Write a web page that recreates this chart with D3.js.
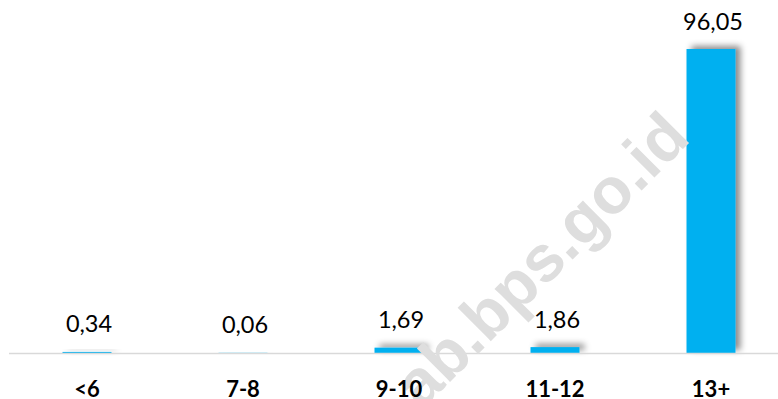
<!DOCTYPE html>
<html>
<head>
<meta charset="utf-8">
<script src="https://cdn.jsdelivr.net/npm/d3@7"></script>
<style>
  html, body { margin: 0; padding: 0; background: #fff; }
  svg { display: block; }
</style>
</head>
<body>
<svg id="chart" width="778" height="399"></svg>
<script>
const categories = ["<6", "7-8", "9-10", "11-12", "13+"];
const values = [0.34, 0.06, 1.69, 1.86, 96.05];
const valueLabels = ["0,34", "0,06", "1,69", "1,86", "96,05"];
const yDomainMax = 100;

const W = 778, H = 399;
const baseY = 353, topY = 36.5;
const svg = d3.select("#chart");

const defs = svg.append("defs");
const f = defs.append("filter").attr("id", "shadow")
  .attr("x", "-50%").attr("y", "-200%").attr("width", "200%").attr("height", "500%");
f.append("feDropShadow").attr("dx", 5).attr("dy", -3).attr("stdDeviation", 3)
  .attr("flood-color", "#000").attr("flood-opacity", 0.45);

const x = d3.scaleBand().domain(categories).range([9, 789])
  .paddingInner(0.686).paddingOuter(0.343);
const y = d3.scaleLinear().domain([0, yDomainMax]).range([baseY, topY]);

// bars
svg.append("g").selectAll("rect").data(values).join("rect")
  .attr("x", (d, i) => x(categories[i]))
  .attr("width", x.bandwidth())
  .attr("y", d => y(d))
  .attr("height", d => baseY - y(d))
  .attr("fill", "#00B0F0")
  .attr("filter", "url(#shadow)");

// axis line
const xAxis = d3.axisBottom(x).tickSize(0).tickPadding(0).tickFormat("");
const ax = svg.append("g").attr("transform", `translate(0,${baseY})`).call(xAxis);
ax.select(".domain").attr("d", `M9,0.5H778`).attr("stroke", "#d9d9d9").attr("stroke-width", 1.5);

// watermark
svg.append("text")
  .attr("transform", "translate(692,140) rotate(-45)")
  .attr("text-anchor", "end")
  .attr("font-family", "Liberation Sans, Arial, sans-serif")
  .attr("font-weight", "bold")
  .attr("font-size", 65)
  .attr("fill", "#dedede")
  .text("ab.bps.go.id");

// value labels
svg.append("g").selectAll("text").data(values).join("text")
  .attr("x", (d, i) => x(categories[i]) + x.bandwidth() / 2 + 2)
  .attr("y", d => y(d) - 19.5)
  .attr("text-anchor", "middle")
  .attr("font-family", "Lato, sans-serif")
  .attr("font-size", 23.5)
  .attr("fill", "#000")
  .text((d, i) => valueLabels[i]);

// category labels
svg.append("g").selectAll("text").data(categories).join("text")
  .attr("x", d => x(d) + x.bandwidth() / 2)
  .attr("y", 396.5)
  .attr("text-anchor", "middle")
  .attr("font-family", "Lato, sans-serif")
  .attr("font-weight", "bold")
  .attr("font-size", 22)
  .attr("fill", "#000")
  .text(d => d);
</script>
</body>
</html>
